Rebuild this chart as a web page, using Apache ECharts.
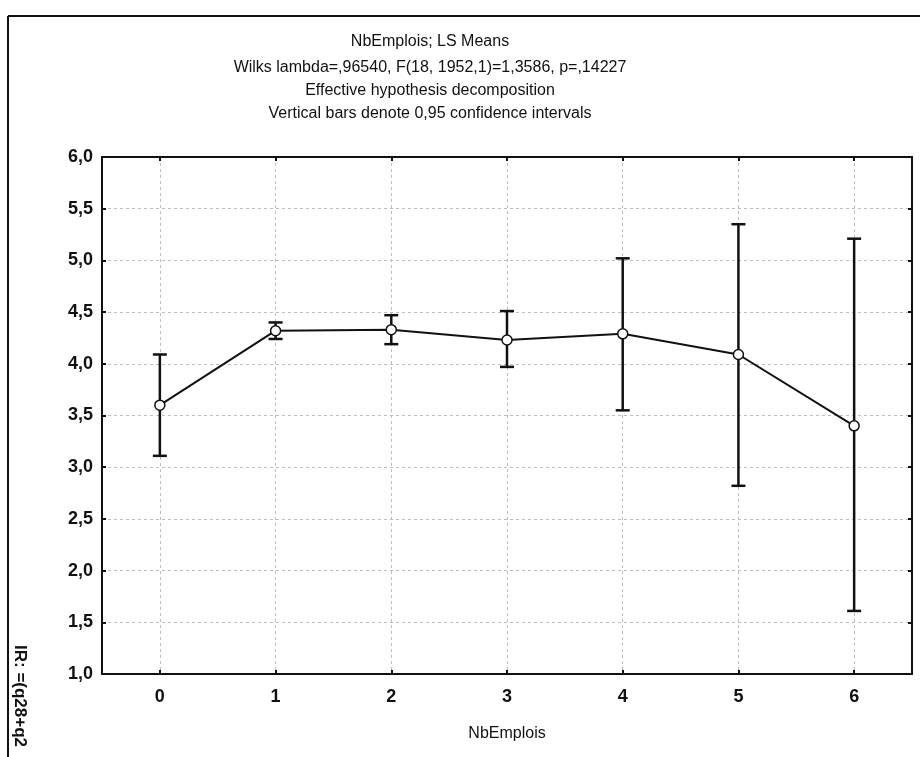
<!DOCTYPE html>
<html>
<head>
<meta charset="utf-8">
<script src="https://cdn.jsdelivr.net/npm/echarts@6/dist/echarts.min.js"></script>
<style>
html,body{margin:0;padding:0;background:#fff;}
#chart{width:920px;height:757px;}
</style>
</head>
<body>
<div id="chart"></div>
<script>
// ---- data ----
var categories = [0, 1, 2, 3, 4, 5, 6];
var means = [3.60, 4.32, 4.33, 4.23, 4.29, 4.09, 3.40];
var lower = [3.11, 4.24, 4.19, 3.97, 3.55, 2.82, 1.61];
var upper = [4.09, 4.40, 4.47, 4.51, 5.02, 5.35, 5.21];
var titleLines = [
  'NbEmplois; LS Means',
  'Wilks lambda=,96540, F(18, 1952,1)=1,3586, p=,14227',
  'Effective hypothesis decomposition',
  'Vertical bars denote 0,95 confidence intervals'
];
var xAxisName = 'NbEmplois';
var yAxisName = 'IR: =(q28+q2';

var FONT = '"Liberation Sans", Arial, sans-serif';

var lineData = categories.map(function (c, i) { return [c, means[i]]; });
var barData = categories.map(function (c, i) { return [c, lower[i], upper[i]]; });

var chart = echarts.init(document.getElementById('chart'));

var gridLine = { show: true, lineStyle: { color: '#bdbdbd', width: 1, type: [3, 3] } };
var frameLine = { show: true, onZero: false, lineStyle: { color: '#111', width: 2 } };
var innerTick = { show: true, inside: true, length: 4, lineStyle: { color: '#111', width: 2 } };

var titleTops = [34, 60, 83, 106];

var option = {
  backgroundColor: '#fff',
  animation: false,
  title: titleLines.map(function (t, i) {
    return {
      text: t, left: 430, top: titleTops[i], textAlign: 'center', padding: 0,
      textStyle: { fontFamily: FONT, fontSize: 16, fontWeight: 'normal', color: '#111' }
    };
  }),
  grid: { left: 102, top: 157, right: 8, bottom: 83, containLabel: false },
  xAxis: [{
    type: 'value', position: 'bottom', min: -0.5, max: 6.5,
    name: xAxisName, nameLocation: 'middle', nameGap: 52,
    nameTextStyle: { fontFamily: FONT, fontSize: 16, color: '#111' },
    axisLine: frameLine,
    axisTick: { show: true, inside: true, length: 4, lineStyle: { color: '#111', width: 2 }, customValues: categories },
    axisLabel: { customValues: categories, margin: 14, fontFamily: FONT, fontSize: 18, fontWeight: 'bold', color: '#111' },
    splitLine: gridLine
  }, {
    type: 'value', position: 'top', min: -0.5, max: 6.5,
    axisLine: frameLine,
    axisTick: { show: true, inside: true, length: 4, lineStyle: { color: '#111', width: 2 }, customValues: categories },
    axisLabel: { show: false, customValues: categories },
    splitLine: { show: false }
  }],
  yAxis: [{
    type: 'value', position: 'left', min: 1, max: 6, interval: 0.5,
    axisLine: frameLine, axisTick: innerTick,
    axisLabel: {
      margin: 9, fontFamily: FONT, fontSize: 18, fontWeight: 'bold', color: '#111',
      formatter: function (v) { return v.toFixed(1).replace('.', ','); }
    },
    splitLine: gridLine
  }, {
    type: 'value', position: 'right', min: 1, max: 6, interval: 0.5,
    axisLine: frameLine, axisTick: innerTick,
    axisLabel: { show: false }, splitLine: { show: false }
  }],
  series: [{
    type: 'custom',
    xAxisIndex: 0, yAxisIndex: 0,
    z: 2,
    data: barData,
    renderItem: function (params, api) {
      var x = api.value(0);
      var lo = api.coord([x, api.value(1)]);
      var hi = api.coord([x, api.value(2)]);
      var hw = 7;
      var st = { stroke: '#111', lineWidth: 2.5 };
      return {
        type: 'group',
        children: [
          { type: 'line', shape: { x1: lo[0], y1: lo[1], x2: hi[0], y2: hi[1] }, style: st },
          { type: 'line', shape: { x1: lo[0] - hw, y1: lo[1], x2: lo[0] + hw, y2: lo[1] }, style: st },
          { type: 'line', shape: { x1: hi[0] - hw, y1: hi[1], x2: hi[0] + hw, y2: hi[1] }, style: st }
        ]
      };
    }
  }, {
    type: 'line',
    xAxisIndex: 0, yAxisIndex: 0,
    z: 5,
    data: lineData,
    symbol: 'circle', symbolSize: 10,
    lineStyle: { color: '#111', width: 2 },
    itemStyle: { color: '#fff', borderColor: '#111', borderWidth: 1.5 }
  }],
  graphic: [
    { type: 'line', shape: { x1: 8, y1: 16, x2: 920, y2: 16 }, style: { stroke: '#111', lineWidth: 2 } },
    { type: 'line', shape: { x1: 8, y1: 16, x2: 8, y2: 757 }, style: { stroke: '#111', lineWidth: 2 } },
    {
      type: 'text', x: 20, y: 645, rotation: -Math.PI / 2,
      style: { text: yAxisName, fill: '#111', font: 'bold 17px ' + FONT, textAlign: 'left', textVerticalAlign: 'middle' }
    }
  ]
};
chart.setOption(option);
</script>
</body>
</html>
